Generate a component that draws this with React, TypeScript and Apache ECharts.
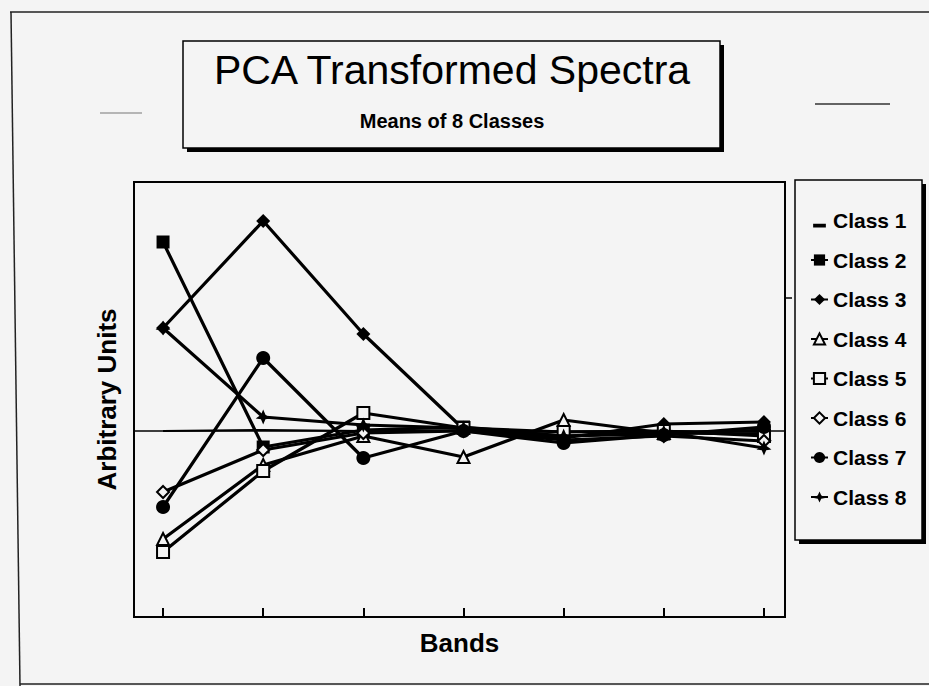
import React, { useEffect, useRef } from "react";
import * as echarts from "echarts";

const bands = [1, 2, 3, 4, 5, 6, 7];
const classNames = ["Class 1", "Class 2", "Class 3", "Class 4", "Class 5", "Class 6", "Class 7", "Class 8"];
const class1 = [0.0, 0.01, 0.0, 0.01, -0.01, 0.0, -0.01];
const class2 = [1.89, -0.16, 0.01, 0.04, -0.05, -0.03, 0.01];
const class3 = [1.03, 2.1, 0.97, 0.02, -0.07, 0.07, 0.09];
const class4 = [-1.08, -0.34, -0.05, -0.26, 0.11, -0.02, -0.03];
const class5 = [-1.21, -0.4, 0.18, 0.03, -0.01, 0.0, -0.05];
const class6 = [-0.61, -0.19, -0.02, 0.0, -0.09, -0.05, -0.1];
const class7 = [-0.76, 0.73, -0.27, 0.0, -0.12, -0.04, 0.04];
const class8 = [1.03, 0.14, 0.06, 0.03, -0.05, -0.01, -0.17];
const titleText = "PCA Transformed Spectra";
const subtitleText = "Means of 8 Classes";
const xAxisName = "Bands";
const yAxisName = "Arbitrary Units";
const xMin = 0.71;
const xMax = 7.21;

const BG = "#f4f4f4";
const FONT = "Liberation Sans, Arial, sans-serif";
const STAR = "path://M0,-10 L3,-3 L10,2 L3,3 L0,10 L-3,3 L-10,2 L-3,-3Z";
const BAR_ICON = "path://M0,0 L0.01,0 L0.01,0.01 Z M0,8 L10,8 L10,11 L0,11 Z";

export default function App() {
  const ref = useRef<HTMLDivElement>(null);
  useEffect(() => {
    document.body.style.margin = "0";
    document.body.style.background = BG;
    const chart = echarts.init(ref.current!, null, { renderer: "svg" });
    const allValues = [class1, class2, class3, class4, class5, class6, class7, class8];
    const styles: any[] = [
      { symbol: "none", size: 0, filled: true },
      { symbol: "rect", size: 13, filled: true },
      { symbol: "diamond", size: 14, filled: true },
      { symbol: "triangle", size: 12, filled: false },
      { symbol: "rect", size: 12, filled: false },
      { symbol: "diamond", size: 12, filled: false },
      { symbol: "circle", size: 14, filled: true },
      { symbol: STAR, size: 15, filled: true },
    ];
    const series: any[] = allValues.map((vals, i) => {
      const st = styles[i];
      return {
        name: classNames[i],
        type: "line",
        xAxisIndex: 0,
        data: bands.map((b, j) => [b, vals[j]]),
        symbol: st.symbol,
        symbolSize: st.size,
        showSymbol: st.symbol !== "none",
        lineStyle: { color: "#000", width: i === 0 ? 2 : 3.2 },
        itemStyle: st.filled
          ? { color: "#000", borderColor: "#000", borderWidth: 0 }
          : { color: BG, borderColor: "#000", borderWidth: 2 },
        z: 3 + i,
      };
    });

    chart.setOption({
      animation: false,
      backgroundColor: BG,
      grid: {
        left: 134,
        top: 182,
        right: 144,
        bottom: 69,
        show: true,
        borderColor: "#000",
        borderWidth: 2,
        backgroundColor: "transparent",
      },
      xAxis: [
        {
          type: "value",
          position: "bottom",
          min: xMin,
          max: xMax,
          axisLine: { show: true, onZero: false, lineStyle: { color: "#000", width: 2 } },
          axisTick: { show: true, inside: true, length: 9, customValues: bands, lineStyle: { color: "#000", width: 2 } },
          axisLabel: { show: false },
          splitLine: { show: false },
          name: xAxisName,
          nameLocation: "middle",
          nameGap: 13,
          nameTextStyle: { fontSize: 26, fontWeight: "bold", color: "#000", fontFamily: FONT, verticalAlign: "top" },
        },
        {
          type: "value",
          position: "bottom",
          min: xMin,
          max: xMax,
          axisLine: { show: true, onZero: true, lineStyle: { color: "#000", width: 1.5 } },
          axisTick: { show: false },
          axisLabel: { show: false },
          splitLine: { show: false },
        },
      ],
      yAxis: {
        type: "value",
        min: -1.86,
        max: 2.49,
        axisLine: { show: true, onZero: false, lineStyle: { color: "#000", width: 2 } },
        axisTick: { show: false },
        axisLabel: { show: false },
        splitLine: { show: false },
        name: yAxisName,
        nameLocation: "middle",
        nameGap: 14,
        nameTextStyle: { fontSize: 26, fontWeight: "bold", color: "#000", fontFamily: FONT },
      },
      legend: {
        orient: "vertical",
        left: 805,
        top: 205,
        itemWidth: 17,
        itemHeight: 14,
        itemGap: 18.5,
        data: classNames.map((n, i) => (i === 0 ? { name: n, icon: BAR_ICON } : { name: n })),
        textStyle: { fontSize: 21, fontWeight: "bold", color: "#000", fontFamily: FONT },
      },
      graphic: [
        { type: "line", shape: { x1: 10, y1: 12, x2: 929, y2: 12 }, style: { stroke: "#222", lineWidth: 1.5 }, z: 0 },
        { type: "line", shape: { x1: 11, y1: 12, x2: 20, y2: 686 }, style: { stroke: "#222", lineWidth: 1.5 }, z: 0 },
        { type: "line", shape: { x1: 20, y1: 684, x2: 929, y2: 684 }, style: { stroke: "#222", lineWidth: 1.5 }, z: 0 },
        { type: "line", shape: { x1: 100, y1: 113, x2: 142, y2: 113 }, style: { stroke: "#777", lineWidth: 1 }, z: 0 },
        { type: "line", shape: { x1: 815, y1: 104, x2: 890, y2: 104 }, style: { stroke: "#333", lineWidth: 1.5 }, z: 0 },
        { type: "line", shape: { x1: 785, y1: 298, x2: 792, y2: 298 }, style: { stroke: "#000", lineWidth: 1.5 }, z: 0 },
        { type: "rect", shape: { x: 187, y: 45, width: 537, height: 107 }, style: { fill: "#000" }, z: 0 },
        { type: "rect", shape: { x: 183, y: 41, width: 537, height: 107 }, style: { fill: BG, stroke: "#000", lineWidth: 1.5 }, z: 1 },
        {
          type: "text",
          x: 452,
          y: 70,
          z: 2,
          style: { text: titleText, fontSize: 41, fontFamily: FONT, fill: "#000", align: "center", verticalAlign: "middle" },
        },
        {
          type: "text",
          x: 452,
          y: 121,
          z: 2,
          style: { text: subtitleText, fontSize: 20, fontWeight: "bold", fontFamily: FONT, fill: "#000", align: "center", verticalAlign: "middle" },
        },
        { type: "rect", shape: { x: 799, y: 184, width: 127, height: 360 }, style: { fill: "#000" }, z: 0 },
        { type: "rect", shape: { x: 795, y: 180, width: 127, height: 360 }, style: { fill: BG, stroke: "#000", lineWidth: 1.5 }, z: 1 },
      ],
      series,
    });
    return () => chart.dispose();
  }, []);
  return <div ref={ref} style={{ width: 929, height: 686 }} />;
}
